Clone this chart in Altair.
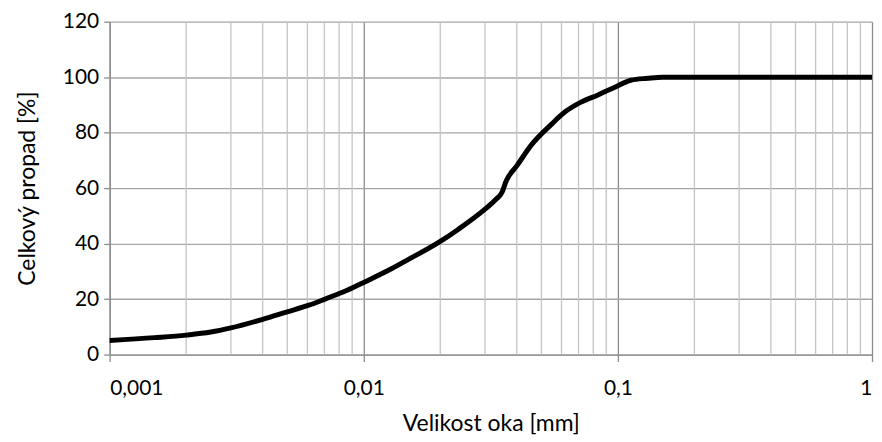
import altair as alt
import pandas as pd

# Data (mesh size [mm] vs. cumulative passing [%])
size_mm = [0.001, 0.0015, 0.002, 0.0025, 0.003, 0.004, 0.005, 0.006, 0.007, 0.008,
           0.009, 0.01, 0.0129, 0.015, 0.02, 0.0236, 0.03, 0.033, 0.035, 0.0363,
           0.04, 0.0456, 0.0546, 0.062, 0.0716, 0.0835, 0.0973, 0.1124, 0.131,
           0.15, 0.3, 1.0]
passing = [5.1, 6.1, 7.0, 8.1, 9.6, 12.7, 15.4, 17.6, 19.9, 22.0,
           24.0, 26.0, 31.0, 34.3, 40.8, 45.2, 52.4, 55.8, 58.5, 62.5,
           68.0, 75.5, 82.9, 87.5, 91.0, 93.6, 96.4, 98.9, 99.6,
           100.0, 100.0, 100.0]

major_ticks = [0.001, 0.01, 0.1, 1]
minor_grid = [0.002, 0.003, 0.004, 0.005, 0.006, 0.007, 0.008, 0.009,
              0.02, 0.03, 0.04, 0.05, 0.06, 0.07, 0.08, 0.09,
              0.2, 0.3, 0.4, 0.5, 0.6, 0.7, 0.8, 0.9]
y_ticks = [0, 20, 40, 60, 80, 100, 120]

df = pd.DataFrame({"size": size_mm, "passing": passing})
df_minor = pd.DataFrame({"g": minor_grid})

FONT = "Lato"

xscale = alt.Scale(type="log", domain=[0.001, 1], nice=False)
yscale = alt.Scale(domain=[0, 120], nice=False)

minor = alt.Chart(df_minor).mark_rule(color="#c4c4c4", strokeWidth=1.3).encode(
    x=alt.X("g:Q", scale=xscale)
)

line = alt.Chart(df).mark_line(color="black", strokeWidth=5, interpolate="monotone").encode(
    x=alt.X("size:Q", scale=xscale,
            axis=alt.Axis(values=major_ticks, title="Velikost oka [mm]",
                          labelExpr="replace(toString(datum.value), '.', ',')",
                          grid=True, gridColor="#8c8c8c", gridWidth=1.3,
                          domainColor="#8c8c8c", domainWidth=1.3,
                          tickColor="#8c8c8c", tickSize=7, tickWidth=1.3,
                          labelPadding=16, titlePadding=14)),
    y=alt.Y("passing:Q", scale=yscale,
            axis=alt.Axis(values=y_ticks, title="Celkový propad [%]",
                          grid=True, gridColor="#a6a6a6", gridWidth=1.3,
                          domainColor="#8c8c8c", domainWidth=1.3,
                          tickColor="#8c8c8c", tickSize=6, tickWidth=1.3,
                          labelPadding=5, titlePadding=23)),
)

chart = alt.layer(minor, line).properties(
    width=765, height=334,
    autosize=alt.AutoSizeParams(type="none"),
    padding={"left": 102, "top": 13, "right": 2, "bottom": 85},
).configure_axis(
    labelFont=FONT, titleFont=FONT, labelFontSize=21, titleFontSize=23,
    labelColor="black", titleColor="black", titleFontWeight="normal",
).configure_view(stroke=None)

chart.save("out.html", embed_options={"renderer": "svg", "actions": False})
